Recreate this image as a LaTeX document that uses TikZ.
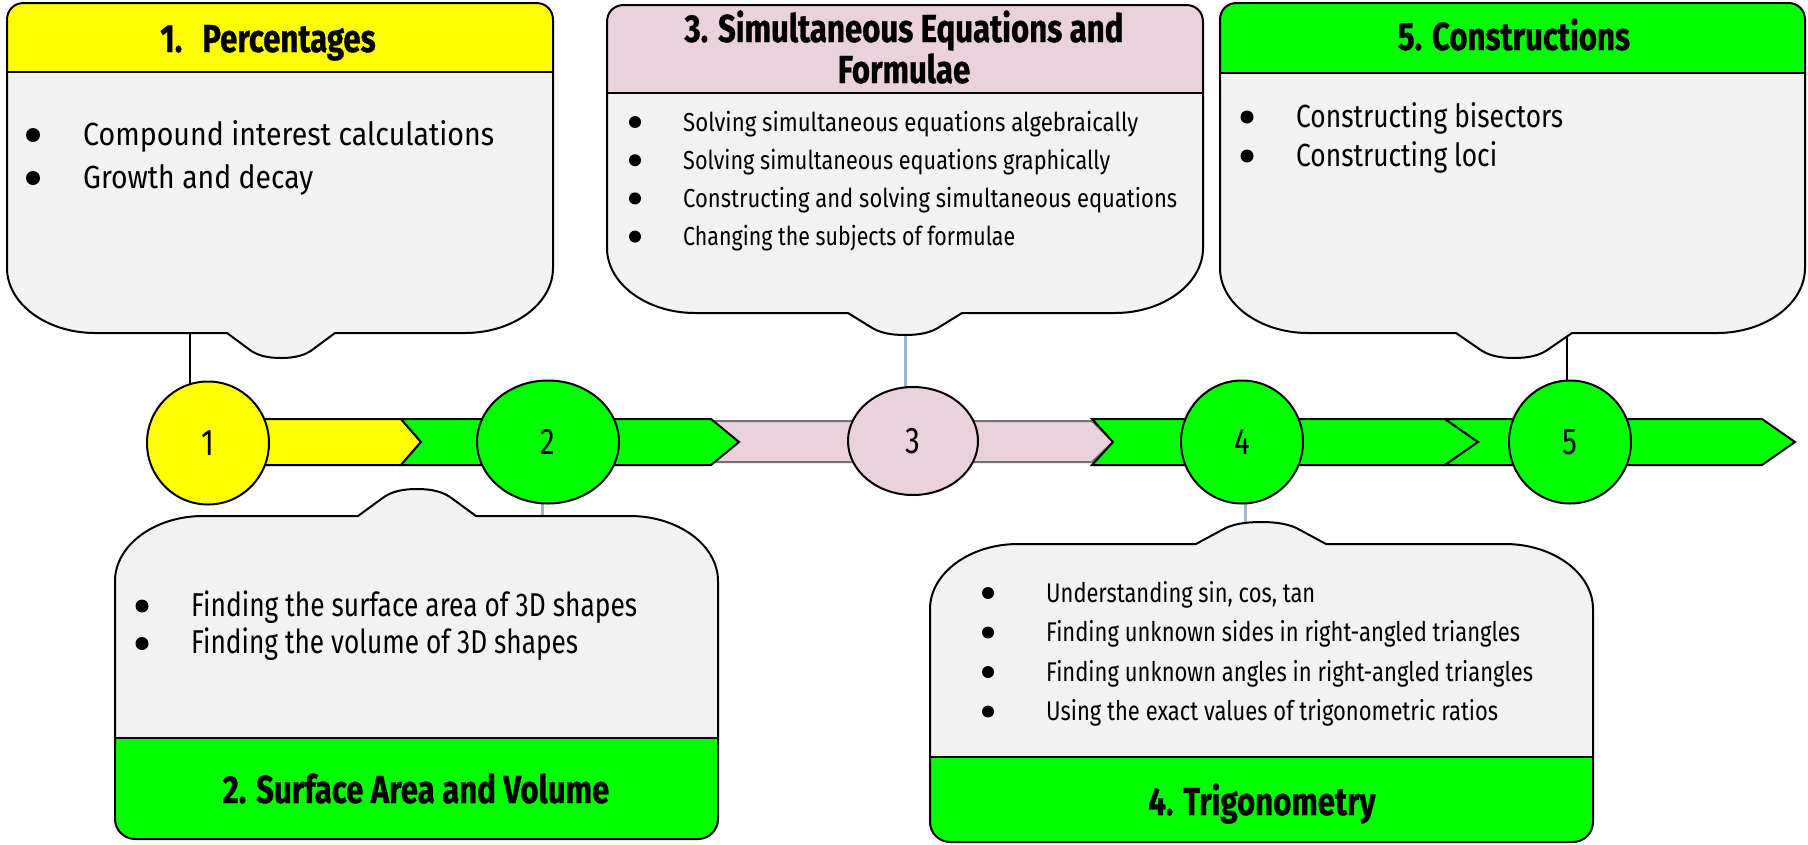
\documentclass[tikz,border=0pt]{standalone}
\usepackage{fontspec}
\usepackage{graphicx}
\setmainfont{Fira Sans}
\newfontfamily\ttlfont{Fira Sans}[FakeStretch=0.8, BoldFeatures={FakeBold=0.8}]
\newfontfamily\numfont{Fira Sans}[FakeStretch=0.8]
\usetikzlibrary{shapes.geometric}
\pgfdeclarelayer{bg}
\pgfsetlayers{bg,main}
\definecolor{cyel}{HTML}{FFFF00}
\definecolor{cgrn}{HTML}{00FF00}
\definecolor{cpnk}{HTML}{EAD1DC}
\definecolor{cgry}{HTML}{F2F2F2}
\definecolor{cblu}{HTML}{9FB7CB}
\tikzset{
  outl/.style={draw=black, line width=2pt, line join=round},
  bconn/.style={draw=black, line width=2.5pt},
  lconn/.style={draw=cblu, line width=3pt},
  ttl/.style={font=\ttlfont\fontsize{39}{41}\selectfont\bfseries, inner sep=0pt, anchor=base},
  numc/.style={ellipse, draw=black, line width=2pt, inner sep=0pt, font=\numfont\fontsize{37}{40}\selectfont},
  seg/.style={draw=black, line width=2pt, line join=miter},
  itm/.style={inner sep=0pt, anchor=base west},
}
% L R T B xc hw d
\newcommand\topshape[7]{%
 ({#1},{#3+17}) .. controls ({#1},{#3+7}) and ({#1+7},{#3}) .. ({#1+17},{#3})
 -- ({#2-17},{#3}) .. controls ({#2-7},{#3}) and ({#2},{#3+7}) .. ({#2},{#3+17})
 -- ({#2},{#4-65}) .. controls ({#2},{#4-29}) and ({#2-40},{#4}) .. ({#2-88},{#4})
 -- ({#5+#6},{#4}) -- ({#5+0.6*#6},{#4+0.64*#7})
 .. controls ({#5+0.45*#6},{#4+0.9*#7}) and ({#5+0.25*#6},{#4+#7}) .. ({#5},{#4+#7})
 .. controls ({#5-0.25*#6},{#4+#7}) and ({#5-0.45*#6},{#4+0.9*#7}) .. ({#5-0.6*#6},{#4+0.64*#7})
 -- ({#5-#6},{#4}) -- ({#1+88},{#4})
 .. controls ({#1+40},{#4}) and ({#1},{#4-29}) .. ({#1},{#4-65}) -- cycle}
% L R Tf Bot xc hw d
\newcommand\botshape[7]{%
 ({#1},{#4-20}) -- ({#1},{#3+65}) .. controls ({#1},{#3+29}) and ({#1+40},{#3}) .. ({#1+88},{#3})
 -- ({#5-#6},{#3}) -- ({#5-0.6*#6},{#3-0.64*#7})
 .. controls ({#5-0.45*#6},{#3-0.9*#7}) and ({#5-0.25*#6},{#3-#7}) .. ({#5},{#3-#7})
 .. controls ({#5+0.25*#6},{#3-#7}) and ({#5+0.45*#6},{#3-0.9*#7}) .. ({#5+0.6*#6},{#3-0.64*#7})
 -- ({#5+#6},{#3}) -- ({#2-88},{#3})
 .. controls ({#2-40},{#3}) and ({#2},{#3+29}) .. ({#2},{#3+65})
 -- ({#2},{#4-20}) .. controls ({#2},{#4-9}) and ({#2-9},{#4}) .. ({#2-20},{#4})
 -- ({#1+20},{#4}) .. controls ({#1+9},{#4}) and ({#1},{#4-9}) .. ({#1},{#4-20}) -- cycle}
\newcommand\topbox[9]{%
 \fill[cgry] \topshape{#1}{#2}{#3}{#4}{#5}{#6}{#7};
 \begin{scope}\clip \topshape{#1}{#2}{#3}{#4}{#5}{#6}{#7};
 \fill[#9] ({#1-5},{#3-5}) rectangle ({#2+5},{#8});\end{scope}
 \draw[outl] ({#1},{#8}) -- ({#2},{#8});
 \draw[outl] \topshape{#1}{#2}{#3}{#4}{#5}{#6}{#7};}
\newcommand\botbox[9]{%
 \fill[cgry] \botshape{#1}{#2}{#3}{#4}{#5}{#6}{#7};
 \begin{scope}\clip \botshape{#1}{#2}{#3}{#4}{#5}{#6}{#7};
 \fill[#9] ({#1-5},{#8}) rectangle ({#2+5},{#4+5});\end{scope}
 \draw[outl] ({#1},{#8}) -- ({#2},{#8});
 \draw[outl] \botshape{#1}{#2}{#3}{#4}{#5}{#6}{#7};}
\begin{document}
\begin{tikzpicture}[x=1pt,y=-1pt]
\useasboundingbox (0,0) rectangle (1808,844);
% boxes
\topbox{7}{553}{3}{333}{281}{54}{25}{72}{cyel}
\topbox{607}{1203}{5}{313}{905}{57}{22}{93}{cpnk}
\topbox{1220}{1805}{3}{333}{1514}{58}{25}{73}{cgrn}
\botbox{115}{718}{516}{839}{417}{59}{27}{738}{cgrn}
\botbox{930}{1593}{544}{842}{1261}{65}{22}{757}{cgrn}
% timeline band
\draw[seg, fill=cyel] (208,419) -- (401,419) -- (421,442) -- (401,465) -- (208,465) -- cycle;
\draw[seg, fill=cpnk, draw=black!55] (711,421) -- (1092,421) -- (1113,442) -- (1092,462) -- (711,462) -- (737,442) -- cycle;
\draw[seg, fill=cgrn] (401,419) -- (711,419) -- (739,442) -- (711,465) -- (401,465) -- (421,442) -- cycle;
\draw[seg, fill=cgrn] (1092,419) -- (1445,419) -- (1478,442) -- (1445,465) -- (1092,465) -- (1113,442) -- cycle;
\draw[seg, fill=cgrn] (1445,419) -- (1762,419) -- (1795,442) -- (1762,465) -- (1445,465) -- (1478,442) -- cycle;
% circles
\node[numc, fill=cyel, minimum width=122pt, minimum height=123pt] (c1) at (208,443) {1};
\node[numc, fill=cgrn, minimum width=142pt, minimum height=123pt] (c2) at (548,442) {2};
\node[numc, fill=cpnk, minimum width=130pt, minimum height=108pt] (c3) at (913,441) {3};
\node[numc, fill=cgrn, minimum width=122pt, minimum height=123pt] (c4) at (1242,442) {4};
\node[numc, fill=cgrn, minimum width=122pt, minimum height=123pt] (c5) at (1570,442) {5};
% connectors
\coordinate (t1) at (190,333);
\coordinate (t2) at (542,516);
\coordinate (t3) at (905,325);
\coordinate (t4) at (1245,530);
\coordinate (t5) at (1567,333);
\begin{pgfonlayer}{bg}
\draw[bconn] (t1) -- (t1 |- c1.center);
\draw[lconn] (t2) -- (t2 |- c2.center);
\draw[lconn] (t3) -- (t3 |- c3.center);
\draw[lconn] (t4) -- (t4 |- c4.center);
\draw[bconn] (t5) -- (t5 |- c5.center);
\end{pgfonlayer}
% titles
\node[ttl] (h1) at (268,52) {1.\hspace{20pt}Percentages};
\node[ttl] (h3a) at (904,42) {3. Simultaneous Equations and};
\node[ttl] (h3b) at (904,83) {Formulae};
\node[ttl] (h5) at (1514,50) {5. Constructions};
\node[ttl] (h2) at (416,803) {2. Surface Area and Volume};
\node[ttl] (h4) at (1262,815) {4. Trigonometry};
% items
\foreach \w/\t [count=\i] in {411/Compound interest calculations, 230/Growth and decay} {
  \node[itm, font=\fontsize{32}{36}\selectfont] (ia\i) at (83,{145+(\i-1)*43}) {\resizebox{\w pt}{\height}{\t}};
  \fill (33,{145+(\i-1)*43-10}) circle (7pt);
}
\foreach \w/\t [count=\i] in {455/Solving simultaneous equations algebraically, 427/Solving simultaneous equations graphically, 494/Constructing and solving simultaneous equations, 332/Changing the subjects of formulae} {
  \node[itm, font=\fontsize{26}{30}\selectfont] (ib\i) at (683,{131+(\i-1)*38.2}) {\resizebox{\w pt}{\height}{\t}};
  \fill (635,{131+(\i-1)*38.2-9}) circle (6pt);
}
\foreach \w/\t [count=\i] in {267/Constructing bisectors, 201/Constructing loci} {
  \node[itm, font=\fontsize{32}{36}\selectfont] (ic\i) at (1296,{127+(\i-1)*39}) {\resizebox{\w pt}{\height}{\t}};
  \fill (1247,{127+(\i-1)*39-10}) circle (6.5pt);
}
\foreach \w/\t [count=\i] in {446/Finding the surface area of 3D shapes, 387/Finding the volume of 3D shapes} {
  \node[itm, font=\fontsize{33}{36}\selectfont] (id\i) at (191,{616+(\i-1)*37.5}) {\resizebox{\w pt}{\height}{\t}};
  \fill (142,{616+(\i-1)*37.5-10}) circle (6.5pt);
}
\foreach \w/\t [count=\i] in {269/Understanding sin{,} cos{,} tan, 474/Finding unknown sides in right-angled triangles, 487/Finding unknown angles in right-angled triangles, 452/Using the exact values of trigonometric ratios} {
  \node[itm, font=\fontsize{27}{30}\selectfont] (ie\i) at (1046,{602+(\i-1)*39.5}) {\resizebox{\w pt}{\height}{\t}};
  \fill (988,{602+(\i-1)*39.5-9}) circle (6pt);
}
\end{tikzpicture}
\end{document}
